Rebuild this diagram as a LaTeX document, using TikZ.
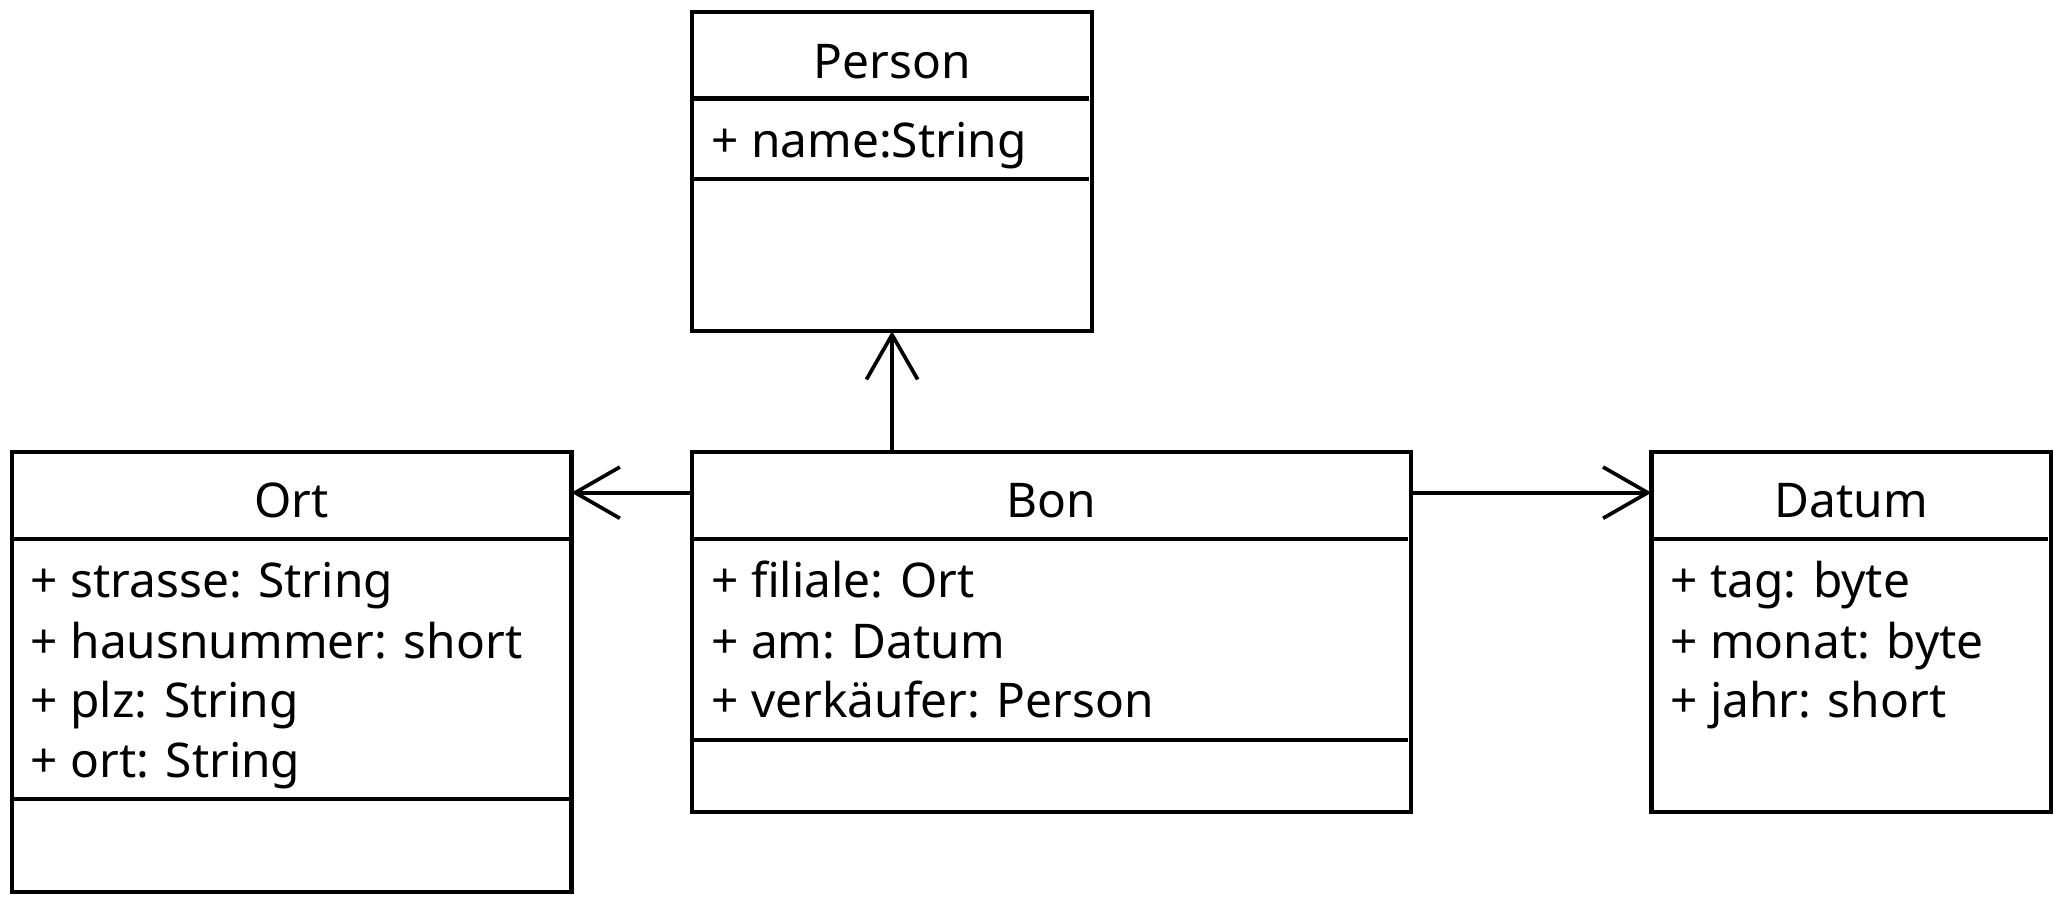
\documentclass[tikz,border=0pt]{standalone}
\usepackage{fontspec}
\setmainfont{Noto Sans}
\usetikzlibrary{arrows.meta,calc}
\tikzset{
  umlbox/.style={draw, line width=1.6pt, rectangle, inner sep=0pt, outer sep=0pt, anchor=north west},
  sepline/.style={line width=1.6pt},
  title/.style={anchor=base, inner sep=0pt, font=\fontsize{18.2}{21}\selectfont},
  attr/.style={anchor=base west, inner sep=0pt, font=\fontsize{18.2}{21}\selectfont},
  arr/.style={line width=1.4pt, -{Straight Barb[length=17pt, width=19.5pt, line width=1.4pt]}}
}
\begin{document}
\begin{tikzpicture}[x=0.5pt, y=-0.5pt]
\useasboundingbox (0,0) rectangle (1568,685);
% boxes
\node[umlbox, minimum width=152pt, minimum height=121.5pt] (person) at (527,9) {};
\node[umlbox, minimum width=213pt, minimum height=167.5pt] (ort) at (9,344) {};
\node[umlbox, minimum width=273.5pt, minimum height=137pt] (bon) at (527,344) {};
\node[umlbox, minimum width=152pt, minimum height=137pt] (datum) at (1257,344) {};
% separators
\draw[sepline] (527,75) -- (829,75);
\draw[sepline] (527,136) -- (829,136);
\draw[sepline] (9,410) -- (433,410);
\draw[sepline] (9,608) -- (433,608);
\draw[sepline] (527,410) -- (1072,410);
\draw[sepline] (527,563) -- (1072,563);
\draw[sepline] (1257,410) -- (1559,410);
% titles
\node[title] (tperson) at (679,59.5) {Person};
\node[title] (tort) at (222,394) {Ort};
\node[title] (tbon) at (800.5,394) {Bon};
\node[title] (tdatum) at (1409,394) {Datum};
% attributes
\node[attr] (p1) at (541,119.7) {+ name:String};
\node[attr] (o1) at (23,455) {+ strasse: String};
\node[attr] (o2) at (23,501) {+ hausnummer: short};
\node[attr] (o3) at (23,546) {+ plz: String};
\node[attr] (o4) at (23,592) {+ ort: String};
\node[attr] (b1) at (541,455) {+ filiale: Ort};
\node[attr] (b2) at (541,501) {+ am: Datum};
\node[attr] (b3) at (541,546) {+ verkäufer: Person};
\node[attr] (d1) at (1271,455) {+ tag: byte};
\node[attr] (d2) at (1271,501) {+ monat: byte};
\node[attr] (d3) at (1271,546) {+ jahr: short};
% connectors
\draw[arr] (person.south |- bon.north) -- (person.south);
\draw[arr] ([yshift=-15.5pt]bon.north west) -- ([yshift=-15.5pt]ort.north east);
\draw[arr] ([yshift=-15.5pt]bon.north east) -- ([yshift=-15.5pt]datum.north west);
\end{tikzpicture}
\end{document}
